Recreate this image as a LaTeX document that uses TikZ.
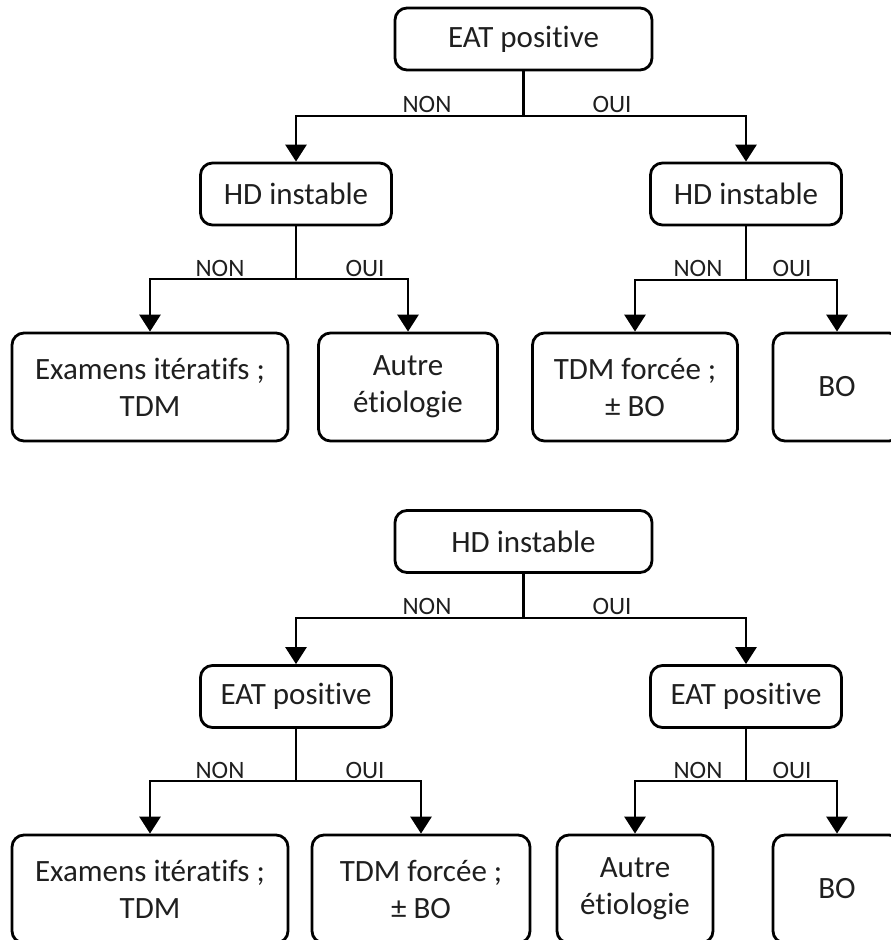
\documentclass[tikz,border=0pt]{standalone}
\usepackage{fontspec}
\setmainfont{Carlito}[RawFeature={-liga}]
\usetikzlibrary{arrows.meta}
\tikzset{
  box/.style={draw=black, line width=2.8pt, rounded corners=12pt, inner sep=0pt,
    align=center, font=\fontsize{31}{37}\selectfont, text=black!88},
  lbl/.style={anchor=base, inner sep=0pt, font=\fontsize{25}{28}\selectfont, text=black!88},
  conn/.style={draw=black, line width=2.8pt},
  arr/.style={conn, -{Triangle[length=17pt,width=21pt]}},
}
\begin{document}
\begin{tikzpicture}[x=1pt,y=-1pt]
\useasboundingbox (0,0) rectangle (891,940);
\clip (0,0) rectangle (891,940);
% ---------- Tree 1 ----------
\node[box, minimum width=257pt, minimum height=62pt] (a1) at (523.5,39) {EAT positive};
\node[box, minimum width=191pt, minimum height=62pt] (b1) at (296,194) {HD instable};
\node[box, minimum width=191pt, minimum height=62pt] (b2) at (746,194) {HD instable};
\node[box, minimum width=276pt, minimum height=108pt] (l1) at (150,387) {Examens itératifs ;\\TDM};
\node[box, minimum width=179pt, minimum height=108pt] (l2) at (408,387) {Autre\\étiologie};
\node[box, minimum width=205pt, minimum height=108pt] (l3) at (635,387) {TDM forcée ;\\± BO};
\node[box, minimum width=128pt, minimum height=108pt] (l4) at (837,387) {BO};
\coordinate (s1) at (523.5,116);
\coordinate (s2) at (296,279);
\coordinate (s3) at (746,280);
\draw[conn] (a1) -- (s1);
\draw[arr] (s1) -| (b1);
\draw[arr] (s1) -| (b2);
\draw[conn] (b1) -- (s2);
\draw[arr] (s2) -| (l1);
\draw[arr] (s2) -| (l2);
\draw[conn] (b2) -- (s3);
\draw[arr] (s3) -| (l3);
\draw[arr] (s3) -| (l4);
\node[lbl] (n1) at (427,112) {NON};
\node[lbl] (o1) at (612,112) {OUI};
\node[lbl] (n2) at (220,276) {NON};
\node[lbl] (o2) at (365,276) {OUI};
\node[lbl] (n3) at (698,276) {NON};
\node[lbl] (o3) at (792,276) {OUI};
% ---------- Tree 2 ----------
\node[box, minimum width=257pt, minimum height=62pt] (c1) at (523.5,541.5) {HD instable};
\node[box, minimum width=191pt, minimum height=62pt] (d1) at (296,696.5) {EAT positive};
\node[box, minimum width=191pt, minimum height=62pt] (d2) at (746,696.5) {EAT positive};
\node[box, minimum width=276pt, minimum height=108pt] (m1) at (150,889) {Examens itératifs ;\\TDM};
\node[box, minimum width=218pt, minimum height=108pt] (m2) at (421,889) {TDM forcée ;\\± BO};
\node[box, minimum width=156pt, minimum height=108pt] (m3) at (635,889) {Autre\\étiologie};
\node[box, minimum width=128pt, minimum height=108pt] (m4) at (837,889) {BO};
\coordinate (t1) at (523.5,618);
\coordinate (t2) at (296,781);
\coordinate (t3) at (746,781);
\draw[conn] (c1) -- (t1);
\draw[arr] (t1) -| (d1);
\draw[arr] (t1) -| (d2);
\draw[conn] (d1) -- (t2);
\draw[arr] (t2) -| (m1);
\draw[arr] (t2) -| (m2);
\draw[conn] (d2) -- (t3);
\draw[arr] (t3) -| (m3);
\draw[arr] (t3) -| (m4);
\node[lbl] (n4) at (427,614) {NON};
\node[lbl] (o4) at (612,614) {OUI};
\node[lbl] (n5) at (220,778) {NON};
\node[lbl] (o5) at (365,778) {OUI};
\node[lbl] (n6) at (698,778) {NON};
\node[lbl] (o6) at (792,778) {OUI};
\end{tikzpicture}
\end{document}
